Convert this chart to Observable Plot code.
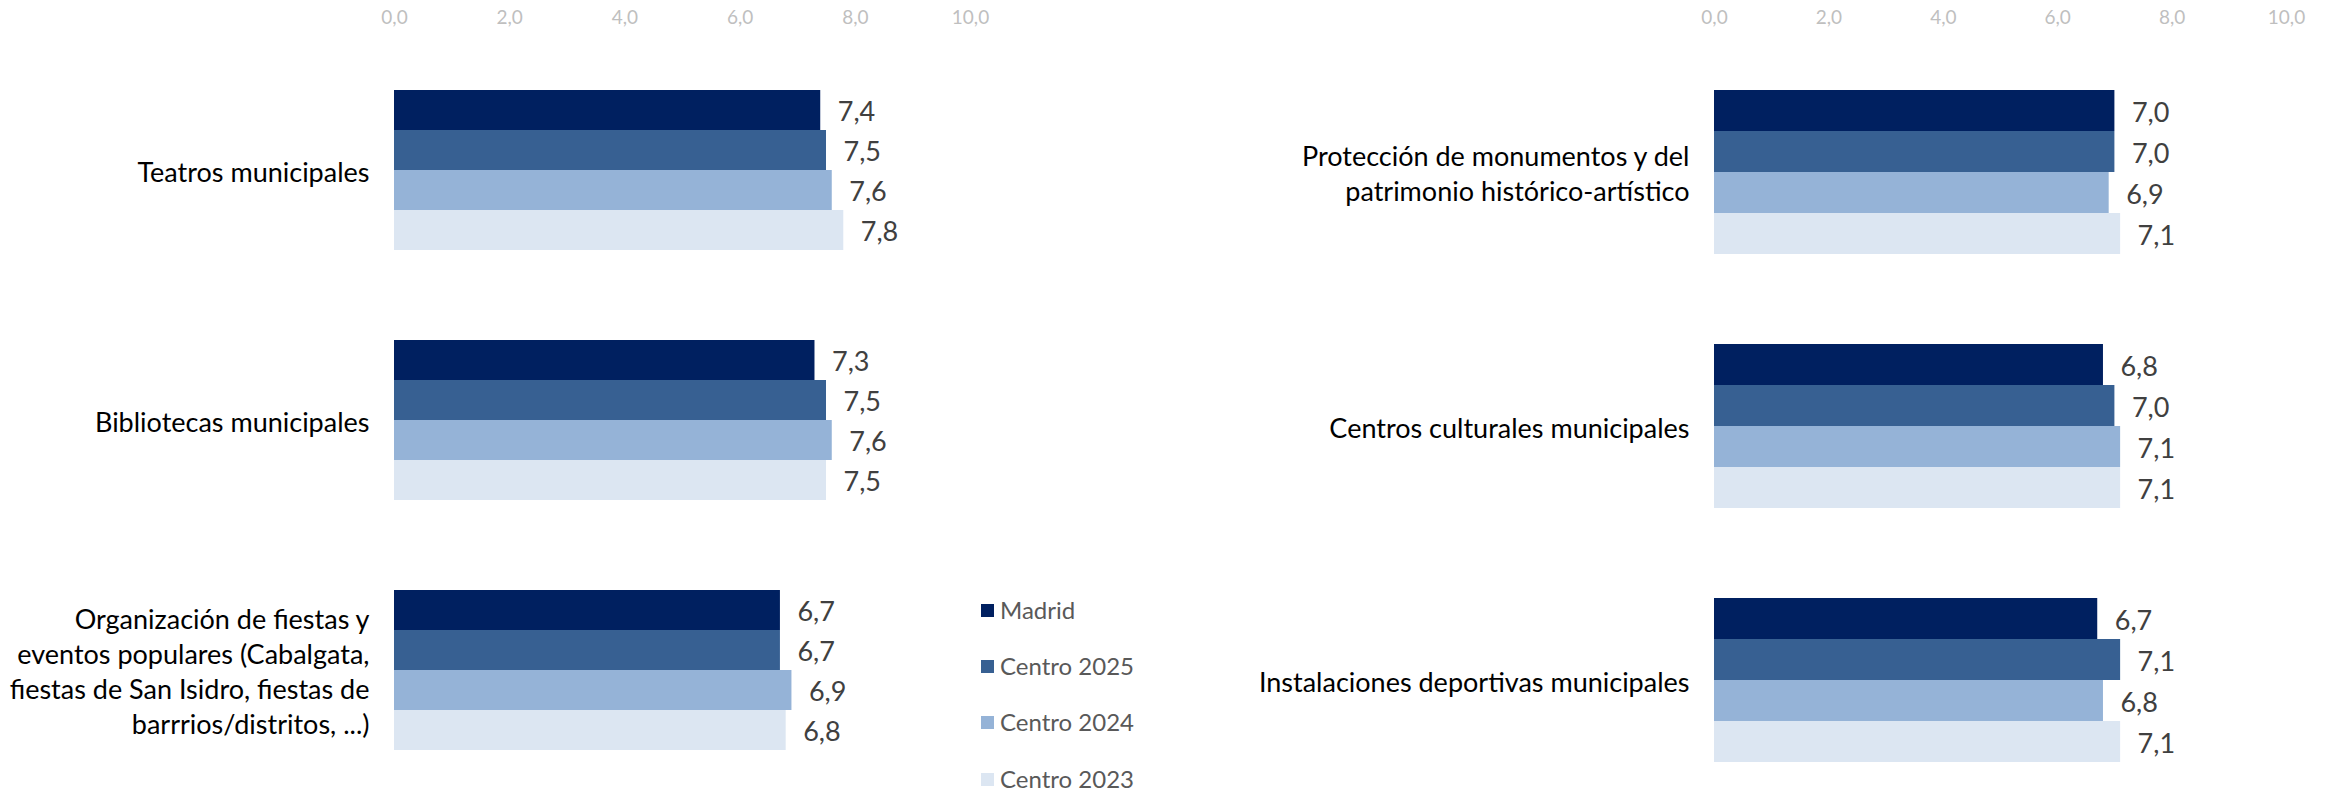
<!DOCTYPE html>
<html>
<head>
<meta charset="utf-8">
<script src="https://cdn.jsdelivr.net/npm/d3@7"></script>
<script src="https://cdn.jsdelivr.net/npm/@observablehq/plot@0.6"></script>
<style>
  html, body { margin: 0; padding: 0; background: #ffffff; }
  #chart { position: relative; width: 2333px; height: 792px; font-family: Lato, "Open Sans", sans-serif; }
  #left { position: absolute; left: 0; top: 0; }
  #right { position: absolute; left: 1000px; top: 0; }
  #legend { position: absolute; left: 981px; top: 0; }
  .item { position: absolute; left: 0; display: flex; align-items: center; white-space: nowrap; }
  .sw { width: 13px; height: 13px; margin-right: 6px; }
  .lab { font-size: 24px; color: #595959; line-height: 1; }
</style>
</head>
<body>
<div id="chart">
  <div id="left"></div>
  <div id="right"></div>
  <div id="legend"></div>
</div>
<script>
// ---- data ----
const categories = [
  "Teatros municipales",
  "Bibliotecas municipales",
  "Organización de fiestas y\neventos populares (Cabalgata,\nfiestas de San Isidro, fiestas de\nbarrrios/distritos, ...)",
  "Protección de monumentos y del\npatrimonio histórico-artístico",
  "Centros culturales municipales",
  "Instalaciones deportivas municipales"
];
const series = ["Madrid", "Centro 2025", "Centro 2024", "Centro 2023"];
const madrid     = [7.4, 7.3, 6.7, 7.0, 6.8, 6.7];
const centro2025 = [7.5, 7.5, 6.7, 7.0, 7.0, 7.1];
const centro2024 = [7.6, 7.6, 6.9, 6.9, 7.1, 6.8];
const centro2023 = [7.8, 7.5, 6.8, 7.1, 7.1, 7.1];
const colors = ["#002060", "#376092", "#95b3d7", "#dce6f2"];
const xTicks = [0, 2, 4, 6, 8, 10];
const leftCats = categories.slice(0, 3);
const rightCats = categories.slice(3, 6);

const seriesValues = [madrid, centro2025, centro2024, centro2023];
const rows = [];
categories.forEach((c, i) => {
  series.forEach((s, j) => rows.push({cat: c, series: s, value: seriesValues[j][i]}));
});
const fmt = v => v.toFixed(1).replace(".", ",");

function panel(cats, opts) {
  const data = rows.filter(r => cats.includes(r.cat));
  return Plot.plot({
    width: opts.width,
    height: 792,
    marginLeft: opts.marginLeft,
    marginRight: opts.marginRight,
    marginTop: opts.marginTop,
    marginBottom: opts.marginBottom,
    style: {fontFamily: "Lato, 'Open Sans', sans-serif", background: "transparent", overflow: "visible"},
    x: {domain: [0, 10]},
    y: {domain: series, padding: 0, axis: null},
    fy: {domain: cats, paddingInner: 0.353, paddingOuter: 0, axis: null},
    color: {domain: series, range: colors},
    marks: [
      Plot.axisX({
        anchor: "top", ticks: xTicks, tickSize: 0, tickPadding: opts.tickPadding,
        fontSize: 19, color: "#bfbfbf", tickFormat: fmt, label: null
      }),
      Plot.barX(data, {x: "value", y: "series", fy: "cat", fill: "series"}),
      Plot.text(data, {
        x: "value", y: "series", fy: "cat", text: d => fmt(d.value),
        textAnchor: "start", dx: 17, dy: 2, fontSize: 27, fill: "#404040"
      }),
      Plot.text(cats, {
        fy: d => d, text: d => d, frameAnchor: "left", textAnchor: "end",
        dx: -25, fontSize: 27, lineHeight: 1.29, fill: "#000000"
      })
    ]
  });
}

document.getElementById("left").appendChild(panel(leftCats, {
  width: 1000, marginLeft: 394, marginRight: 30, marginTop: 88, marginBottom: 41, tickPadding: 66
}));
document.getElementById("right").appendChild(panel(rightCats, {
  width: 1333, marginLeft: 714, marginRight: 47, marginTop: 89, marginBottom: 29, tickPadding: 67
}));

// legend
const legendTops = [610, 666, 722, 779];
const legend = document.getElementById("legend");
series.forEach((s, i) => {
  const item = document.createElement("div");
  item.className = "item";
  item.style.top = (legendTops[i] - 12) + "px";
  item.style.height = "24px";
  const sw = document.createElement("div");
  sw.className = "sw";
  sw.style.background = colors[i];
  const lab = document.createElement("span");
  lab.className = "lab";
  lab.textContent = s;
  item.appendChild(sw);
  item.appendChild(lab);
  legend.appendChild(item);
});
</script>
</body>
</html>
